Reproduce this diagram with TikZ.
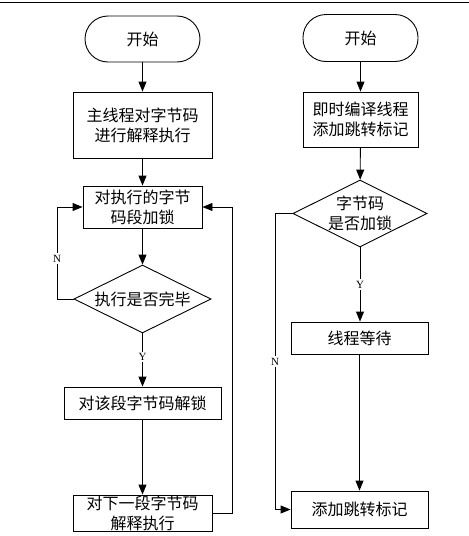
\documentclass[tikz,border=0pt]{standalone}
\usepackage{fontspec}
\setmainfont{Liberation Serif}
\newfontfamily\cjk{Noto Sans CJK SC}
\usetikzlibrary{arrows.meta,shapes.geometric}
\begin{document}
\begin{tikzpicture}[x=1pt,y=-1pt,
  line width=0.9pt,
  every node/.style={inner sep=0pt},
  box/.style={draw,rectangle},
  term/.style={draw,rectangle,rounded corners=23pt},
  dia/.style={draw,diamond},
  txt/.style={font=\cjk\fontsize{16}{20}\selectfont,align=center},
  lab/.style={fill=white,font=\fontsize{11}{13}\selectfont,inner sep=1.5pt},
  arr/.style={-{Triangle[length=10pt,width=8pt]}}
]
\useasboundingbox (0,0) rectangle (469,536);
\draw (0,2) -- (469,2);

% left column
\node[term,minimum width=115pt,minimum height=46pt] (sL) at (142.5,39) {};
\node[txt] (sLt) at (sL) {开始};
\node[box,minimum width=139pt,minimum height=66pt] (b1) at (142.5,125) {};
\node[txt] (b1t) at (b1) {主线程对字节码\\进行解释执行};
\node[box,minimum width=119pt,minimum height=42pt] (b2) at (142.5,207) {};
\node[txt] (b2t) at (b2) {对执行的字节\\码段加锁};
\node[dia,minimum width=137pt,minimum height=68pt] (d1) at (142.5,299) {};
\node[txt] (d1t) at (d1) {执行是否完毕};
\node[box,minimum width=157pt,minimum height=32pt] (b3) at (142.5,403) {};
\node[txt] (b3t) at (b3) {对该段字节码解锁};
\node[box,minimum width=139pt,minimum height=36pt] (b4) at (142.5,513) {};
\node[txt] (b4t) at (b4) {对下一段字节码\\解释执行};

\draw[arr] (sL) -- (b1);
\draw[arr] (b1) -- (b2);
\draw[arr] (b2) -- (d1);
\draw[arr] (d1) -- (b3) node[lab,pos=0.45] (ly) {Y};
\draw[arr] (b3) -- (b4);
\coordinate (cl) at (57,299);
\draw[arr] (d1.west) -- (cl) |- (b2.west) node[lab,pos=0.22] (ln) {N};
\coordinate (cr) at (232,513);
\draw[arr] (b4.east) -- (cr) |- (b2.east);

% right column
\node[term,minimum width=115pt,minimum height=47pt] (sR) at (360.5,38) {};
\node[txt] (sRt) at (sR) {开始};
\node[box,minimum width=115pt,minimum height=55pt] (r1) at (360.5,119.5) {};
\node[txt] (r1t) at (r1) {即时编译线程\\添加跳转标记};
\node[dia,minimum width=134pt,minimum height=67pt] (dR) at (360,213.5) {};
\node[txt] (dRt) at (dR) {字节码\\是否加锁};
\node[box,minimum width=137pt,minimum height=32pt] (r2) at (359.5,338) {};
\node[txt] (r2t) at (r2) {线程等待};
\node[box,minimum width=137pt,minimum height=37pt] (r3) at (359.5,509.5) {};
\node[txt] (r3t) at (r3) {添加跳转标记};

\draw[arr] (sR) -- (r1);
\draw[arr] (r1) -- (dR);
\draw[arr] (dR.south) -- (dR.south |- r2.north) node[lab,pos=0.5] (ry) {Y};
\draw[arr] (r2) -- (r3);
\coordinate (cR) at (275,213.5);
\draw[arr] (cR) |- (r3.west) node[lab,pos=0.25] (rn) {N};
\draw (dR.west) -- (cR);
\end{tikzpicture}
\end{document}
